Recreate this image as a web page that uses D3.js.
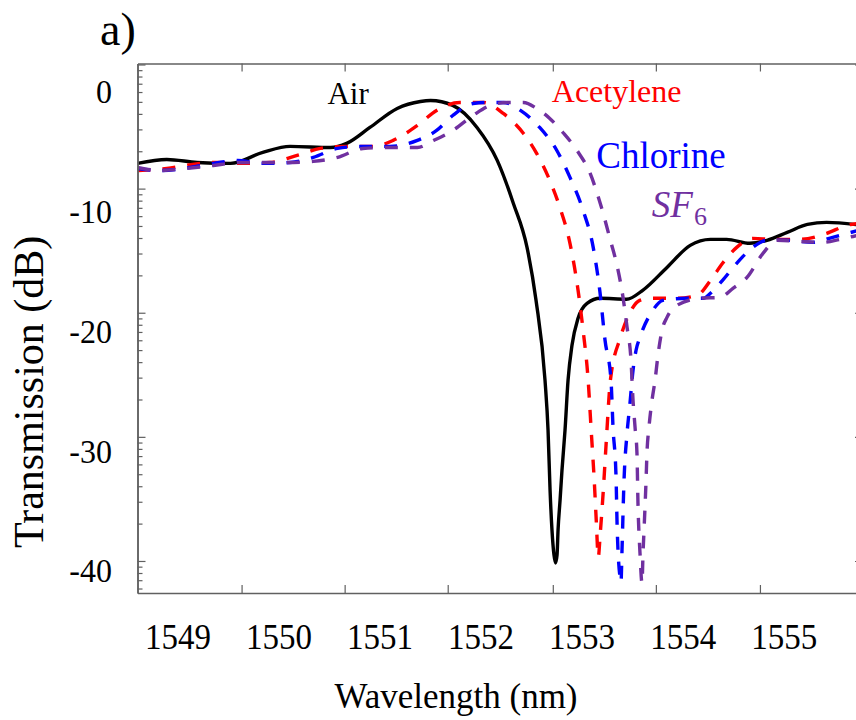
<!DOCTYPE html>
<html>
<head>
<meta charset="utf-8">
<script src="https://cdn.jsdelivr.net/npm/d3@7"></script>
<style>
  html, body { margin: 0; padding: 0; background: #fff; }
  svg { display: block; }
</style>
</head>
<body>
<svg id="chart" width="856" height="720" font-family="'Liberation Serif', Tinos, 'Times New Roman', Times, 'DejaVu Serif', serif"></svg>
<script>
// ---------------- data ----------------
const airWavelength = [1548.60,1548.89,1549.19,1549.52,1549.84,1550.11,1550.51,1550.67,1550.90,1551.17,
  1551.40,1551.50,1551.72,1551.96,1552.16,1552.32,1552.455,1552.544,1552.633,1552.663,
  1552.683,1552.702,1552.722,1552.737,1552.752,1552.762,1552.782,1552.801,1552.831,1552.861,
  1552.900,1552.960,1553.049,1553.18,1553.44,1553.60,1553.84,1554.07,1554.27,1554.43,
  1554.66,1554.83,1555.03,1555.23,1555.42,1555.78];
const airDb = [-6.02,-5.69,-5.94,-6.02,-5.10,-4.60,-4.69,-4.35,-3.02,-1.43,
  -0.85,-0.77,-1.18,-3.02,-5.77,-9.36,-13.03,-17.45,-24.12,-28.29,
  -33.30,-36.63,-38.72,-39.38,-38.72,-36.63,-34.13,-31.63,-28.29,-24.12,
  -21.20,-18.95,-17.70,-17.28,-17.36,-16.61,-14.70,-12.86,-12.36,-12.36,
  -12.69,-12.44,-11.78,-11.11,-10.94,-11.2];

const acetyleneWavelength = [1548.60,1548.89,1549.22,1549.39,1549.62,1549.91,1550.18,1550.41,1550.67,1550.93,
  1551.13,1551.37,1551.56,1551.79,1552.02,1552.22,1552.42,1552.55,1552.68,1552.78,
  1552.88,1552.96,1553.01,1553.06,1553.09,1553.12,1553.14,1553.16,1553.18,1553.21,
  1553.24,1553.28,1553.38,1553.47,1553.57,1553.67,1553.94,1554.14,1554.27,1554.39,
  1554.53,1554.69,1554.89,1555.16,1555.42,1555.62,1555.78];
const acetyleneDb = [-6.61,-6.44,-6.02,-5.94,-6.02,-5.94,-5.35,-4.77,-4.60,-4.60,
  -4.10,-2.85,-1.60,-0.93,-0.93,-1.85,-3.52,-5.18,-7.44,-9.69,
  -12.69,-16.61,-19.95,-24.12,-28.29,-32.46,-35.79,-38.88,-36.88,-33.30,
  -29.12,-24.12,-20.53,-18.54,-17.45,-17.28,-17.28,-17.03,-15.79,-14.36,
  -13.03,-12.28,-12.36,-12.36,-11.86,-11.19,-11.0];

const chlorineWavelength = [1548.60,1548.82,1549.12,1549.35,1549.59,1549.84,1550.11,1550.34,1550.58,1550.83,
  1551.10,1551.37,1551.56,1551.72,1551.92,1552.06,1552.22,1552.39,1552.58,1552.75,
  1552.88,1553.01,1553.11,1553.177,1553.227,1553.286,1553.306,1553.336,1553.346,1553.375,
  1553.385,1553.395,1553.415,1553.445,1553.474,1553.504,1553.534,1553.573,1553.70,1553.80,
  1554.04,1554.20,1554.27,1554.39,1554.53,1554.69,1554.83,1555.03,1555.28,1555.48,1555.78];
const chlorineDb = [-6.44,-6.61,-6.36,-6.02,-5.77,-6.02,-5.94,-5.52,-4.77,-4.60,
  -4.60,-4.10,-3.27,-2.02,-1.02,-0.93,-0.93,-1.60,-3.02,-4.94,
  -7.19,-9.94,-13.03,-16.78,-20.78,-24.12,-28.04,-32.21,-36.05,-40.55,
  -41.0,-38.29,-32.46,-28.54,-26.04,-23.29,-21.62,-20.53,-18.28,-17.45,
  -17.28,-17.28,-16.86,-15.78,-14.36,-13.03,-12.44,-12.44,-12.61,-12.19,-11.5];

const sf6Wavelength = [1548.60,1548.82,1549.09,1549.35,1549.62,1549.84,1550.08,1550.34,1550.58,1550.83,
  1551.10,1551.37,1551.53,1551.72,1551.92,1552.09,1552.26,1552.42,1552.55,1552.68,
  1552.81,1552.95,1553.08,1553.18,1553.28,1553.35,1553.405,1553.445,1553.484,1553.504,
  1553.524,1553.543,1553.553,1553.573,1553.593,1553.603,1553.613,1553.633,1553.642,1553.662,
  1553.692,1553.722,1553.751,1553.791,1553.840,1553.939,1554.167,1554.365,1554.493,1554.632,
  1554.790,1554.929,1555.156,1555.384,1555.552,1555.78];
const sf6Db = [-6.36,-6.61,-6.44,-6.19,-5.94,-5.94,-5.94,-5.85,-5.52,-4.77,
  -4.69,-4.69,-4.10,-3.27,-2.02,-1.18,-0.93,-0.93,-1.43,-2.27,
  -3.44,-4.94,-6.86,-9.36,-12.44,-14.70,-17.20,-19.70,-22.45,-25.79,
  -28.04,-30.21,-34.38,-38.55,-41.05,-38.55,-36.62,-32.46,-30.21,-28.04,
  -25.79,-24.12,-22.03,-19.95,-18.87,-17.87,-17.28,-17.20,-16.45,-15.53,
  -13.53,-12.44,-12.53,-12.61,-12.36,-11.9];

const xTickLabels = [1549, 1550, 1551, 1552, 1553, 1554, 1555];
const xTickMarks = [1549.63, 1550.65, 1551.67, 1552.71, 1553.73, 1554.76];
const yTickLabels = [0, -10, -20, -30, -40];
const transmissionDecades = [1, 0.1, 0.01, 0.001, 0.0001];

const seriesNames = ["Air", "Acetylene", "Chlorine", "SF6"];
const seriesColors = ["#000000", "#ff0000", "#0000ff", "#7030a0"];
// label anchor positions in data units (wavelength, dB)
const labelWavelength = [1550.48, 1552.70, 1553.14, 1553.69];
const labelDb = [-1.02, -0.93, -6.44, -10.52];

// ---------------- layout ----------------
const svg = d3.select("#chart");
const L = 137.5, T = 63.5, R = 863, B = 593;
const axisColor = "#606060";

const x = d3.scaleLinear().domain([1548.60, 1555.78]).range([L, R]);
const y = d3.scaleLinear().domain([2.32, -41.88]).range([T, B]);
const tScale = d3.scaleLog().domain([Math.pow(10, -4.258), Math.pow(10, 0.008)]).range([B, T]);

svg.append("defs").append("clipPath").attr("id", "plotClip")
  .append("rect").attr("x", L).attr("y", T).attr("width", R - L).attr("height", B - T);

const series = [
  { xs: airWavelength, ys: airDb, dash: null },
  { xs: acetyleneWavelength, ys: acetyleneDb, dash: "13,12" },
  { xs: chlorineWavelength, ys: chlorineDb, dash: "13,12" },
  { xs: sf6Wavelength, ys: sf6Db, dash: "13,12" }
];
const line = d3.line().x(d => x(d[0])).y(d => y(d[1])).curve(d3.curveMonotoneX);
const g = svg.append("g").attr("clip-path", "url(#plotClip)");
series.forEach((s, i) => {
  const pts = s.xs.map((v, k) => [v, s.ys[k]]);
  g.append("path").datum(pts)
    .attr("d", line)
    .attr("fill", "none")
    .attr("stroke", seriesColors[i])
    .attr("stroke-width", 3.4)
    .attr("stroke-linejoin", "round")
    .attr("stroke-dasharray", s.dash);
});

// ---------------- axes ----------------
const minorT = [];
for (let e = -5; e <= 0; e++) {
  for (let k = 2; k <= 9; k++) {
    const v = k * Math.pow(10, e);
    const [d0, d1] = tScale.domain();
    if (v > d0 && v < d1) minorT.push(v);
  }
}
function styleAxis(sel) {
  sel.selectAll("path.domain").attr("stroke", axisColor).attr("stroke-width", 1.5);
  sel.selectAll(".tick line").attr("stroke", axisColor).attr("stroke-width", 1.2);
  sel.selectAll(".tick text").remove();
}
svg.append("g").attr("transform", `translate(${L},0)`)
  .call(d3.axisRight(tScale).tickValues(transmissionDecades).tickSize(8).tickSizeOuter(0).tickFormat(""))
  .call(styleAxis);
svg.append("g").attr("transform", `translate(${L},0)`)
  .call(d3.axisRight(tScale).tickValues(minorT).tickSize(5).tickSizeOuter(0).tickFormat(""))
  .call(styleAxis);
svg.append("g").attr("transform", `translate(${R},0)`)
  .call(d3.axisLeft(tScale).tickValues(transmissionDecades).tickSize(8).tickSizeOuter(0).tickFormat(""))
  .call(styleAxis);
svg.append("g").attr("transform", `translate(0,${B})`)
  .call(d3.axisTop(x).tickValues(xTickMarks).tickSize(8).tickSizeOuter(0).tickFormat(""))
  .call(styleAxis);
svg.append("g").attr("transform", `translate(0,${T})`)
  .call(d3.axisBottom(x).tickValues(xTickMarks).tickSize(8).tickSizeOuter(0).tickFormat(""))
  .call(styleAxis);

// tick labels (slightly tall, as in the reference)
svg.append("g").selectAll("text").data(xTickLabels).join("text")
  .attr("transform", d => `translate(${x(d)},649) scale(1,1.1)`)
  .attr("text-anchor", "middle").attr("font-size", 33).attr("fill", "#000")
  .text(d => d);
svg.append("g").selectAll("text").data(yTickLabels).join("text")
  .attr("transform", d => `translate(112,${y(d) + 12}) scale(1,1.08)`)
  .attr("text-anchor", "end").attr("font-size", 32).attr("fill", "#000")
  .text(d => d);

// axis titles
svg.append("text").attr("x", 456).attr("y", 708).attr("text-anchor", "middle")
  .attr("font-size", 35).attr("fill", "#000").text("Wavelength (nm)");
svg.append("text").attr("transform", "translate(43,548) rotate(-90)")
  .attr("text-anchor", "start").attr("font-size", 42).attr("fill", "#000")
  .text("Transmission (dB)");

svg.append("text").attr("x", 100).attr("y", 45).attr("font-size", 46).attr("fill", "#000").text("a)");

const labelSizes = [31, 32, 37, 37];
seriesNames.forEach((name, i) => {
  const t = svg.append("text")
    .attr("x", x(labelWavelength[i])).attr("y", y(labelDb[i]))
    .attr("font-size", labelSizes[i]).attr("fill", seriesColors[i]);
  if (name === "SF6") {
    t.append("tspan").attr("font-style", "italic").text("SF");
    t.append("tspan").attr("font-size", 26).attr("dy", 8).attr("dx", 1).text("6");
  } else {
    t.text(name);
  }
});
</script>
</body>
</html>
